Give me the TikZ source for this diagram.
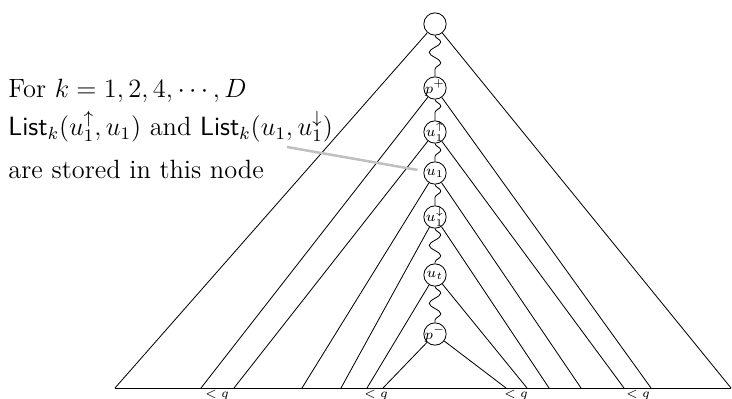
\documentclass[tikz,border=0pt]{standalone}
\usetikzlibrary{decorations.pathmorphing}

\begin{document}
\begin{tikzpicture}[x=0.017cm, y=-0.017cm,
    vtx/.style={draw, circle, inner sep=-2pt, minimum size=10.8pt, font=\scriptsize},
    wig/.style={decorate, decoration={snake, amplitude=2.8pt, segment length=10pt}},
    lbl/.style={below, font=\fontsize{6}{7}\selectfont, inner sep=1pt},
    txt/.style={anchor=base west, inner sep=0pt, font=\large, scale=1.065, transform shape},
    note/.style={gray!50, line width=1.2pt, shorten >=3pt}]
\useasboundingbox (0,0) rectangle (732,399);
% path of the tree
\node[vtx] (r) at (435,24) {};
\node[vtx] (pp) at (435,88) {$p^+$};
\node[vtx] (uu) at (435,132) {$u_1^\uparrow$};
\node[vtx] (u) at (435,173) {$u_1$};
\node[vtx] (ud) at (435,217) {$u_1^\downarrow$};
\node[vtx] (ut) at (435,275) {$u_t$};
\node[vtx] (pm) at (435,334) {$p^-$};
% subtrees hanging off the path
\foreach \n/\l/\r in {r/115/731, pp/201/651, uu/234/624, u/302/581, ud/341/549, ut/367/527, pm/383/506} {
  \coordinate (\n-l) at (\l,388);
  \coordinate (\n-r) at (\r,388);
  \draw (\n-l) -- (\n) -- (\n-r);
}
\draw (r-l) -- (r-r);
\draw[wig] (r) -- (pp);
\draw[wig] (pp) -- (uu);
\draw[wig] (uu) -- (u);
\draw[wig] (u) -- (ud);
\draw[wig] (ud) -- (ut);
\draw[wig] (ut) -- (pm);
\node[lbl] (q1) at (217,388) {$<q$};
\node[lbl] (q2) at (376,388) {$<q$};
\node[lbl] (q3) at (516,388) {$<q$};
\node[lbl] (q4) at (638,388) {$<q$};
% note
\node[txt] (t1) at (8,98) {For $k=1,2,4,\cdots,D$};
\node[txt] (t2) at (8,136) {$\textsf{List}_k(u_1^\uparrow,u_1)$ and $\textsf{List}_k(u_1,u_1^\downarrow)$};
\node[txt] (t3) at (8,178) {are stored in this node};
\coordinate (g) at (287,147);
\draw[note] (g) -- (u);
\end{tikzpicture}
\end{document}
